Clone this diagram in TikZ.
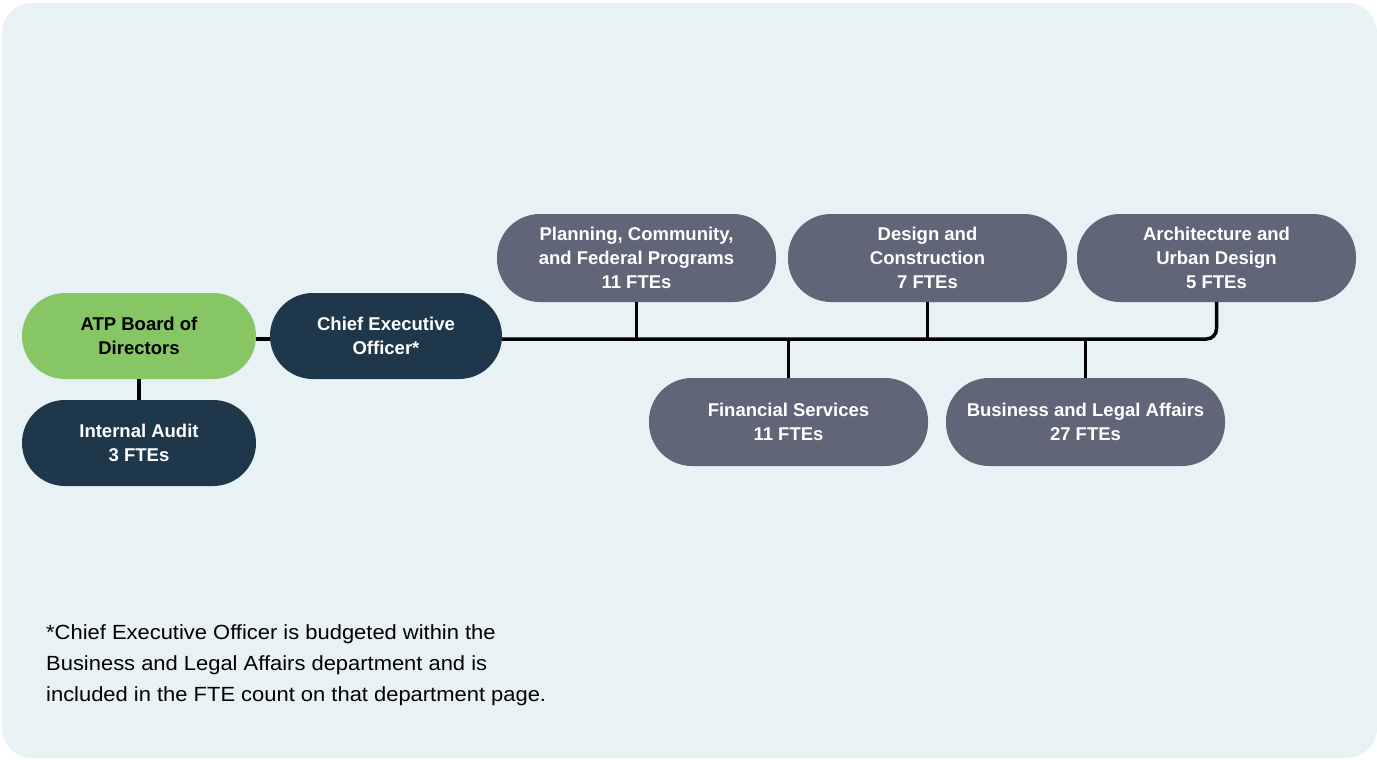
\documentclass[tikz,border=0pt]{standalone}
\usepackage{fontspec}
\setmainfont{Liberation Sans}
\newfontfamily\notefont[FakeStretch=1.07]{Liberation Sans}
\definecolor{bgc}{HTML}{E8F1F3}
\definecolor{greenc}{HTML}{86C664}
\definecolor{navyc}{HTML}{1F374B}
\definecolor{grayc}{HTML}{606677}
\begin{document}
\begin{tikzpicture}[x=1pt,y=-1pt,
  pill/.style={rectangle, rounded corners=43pt, inner sep=0pt, align=center,
    font=\fontsize{18.5}{24}\selectfont\bfseries, text=white},
  small/.style={pill, minimum width=234pt, minimum height=86pt},
  dept/.style={pill, fill=grayc, minimum width=279pt, minimum height=88pt},
  conn/.style={line width=3.5pt, black}]
\useasboundingbox (0,0) rectangle (1377,760);
\fill[bgc, rounded corners=30pt] (2,3) rectangle (1377,758);

\node[small, fill=greenc, text=black] (atp) at (139,336) {ATP Board of\\Directors};
\node[small, fill=navyc, minimum width=232pt] (ceo) at (386,336) {Chief Executive\\Officer*};
\node[small, fill=navyc] (ia) at (139,443) {Internal Audit\\3 FTEs};

\node[dept] (plan) at (636.5,258) {Planning, Community,\\and Federal Programs\\11 FTEs};
\node[dept] (design) at (927.5,258) {Design and\\Construction\\7 FTEs};
\node[dept] (arch) at (1216.5,258) {Architecture and\\Urban Design\\5 FTEs};
\node[dept] (fin) at (788.5,422) {Financial Services\\11 FTEs};
\node[dept] (bus) at (1085.5,422) {Business and Legal Affairs\\27 FTEs};

\coordinate (busline) at (1216.5,339);

\draw[conn] (atp.east |- busline) -- (ceo.west |- busline);
\draw[conn] (atp.south) -- (ia.north);
\draw[conn, rounded corners=10pt] (ceo.east |- busline) -- (busline) -- (arch.south);
\draw[conn] (plan.south) -- (plan.south |- busline);
\draw[conn] (design.south) -- (design.south |- busline);
\draw[conn] (fin.north) -- (fin.north |- busline);
\draw[conn] (bus.north) -- (bus.north |- busline);

\node[anchor=north west, align=left, inner sep=0pt,
  font=\notefont\fontsize{20.5}{31}\selectfont] (note) at (46,624)
  {*Chief Executive Officer is budgeted within the\\Business and Legal Affairs department and is\\included in the FTE count on that department page.};
\end{tikzpicture}
\end{document}
